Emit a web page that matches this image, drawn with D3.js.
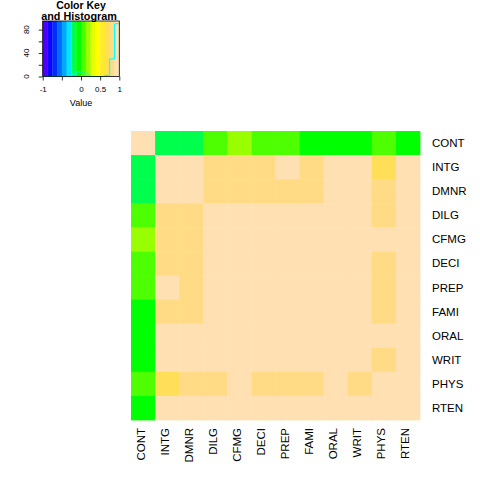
<!DOCTYPE html>
<html>
<head>
<meta charset="utf-8">
<script src="https://cdn.jsdelivr.net/npm/d3@7"></script>
<style>
  html, body { margin: 0; padding: 0; background: #fff; }
  svg { display: block; font-family: "Liberation Sans", Arial, Helvetica, sans-serif; }
</style>
</head>
<body>
<svg id="chart" width="480" height="480"></svg>
<script>
// ---- data (correlation matrix of judge ratings) ----
const variables = ["CONT","INTG","DMNR","DILG","CFMG","DECI","PREP","FAMI","ORAL","WRIT","PHYS","RTEN"];
const CONT = [1.000,-0.133,-0.154,0.012,0.137,0.087,0.011,-0.026,-0.012,-0.004,0.054,-0.034];
const INTG = [-0.133,1.000,0.965,0.874,0.814,0.803,0.878,0.869,0.911,0.909,0.741,0.936];
const DMNR = [-0.154,0.965,1.000,0.837,0.813,0.800,0.856,0.841,0.907,0.894,0.789,0.944];
const DILG = [0.012,0.874,0.837,1.000,0.959,0.956,0.982,0.958,0.957,0.959,0.813,0.932];
const CFMG = [0.137,0.814,0.813,0.959,1.000,0.981,0.958,0.948,0.951,0.945,0.878,0.933];
const DECI = [0.087,0.803,0.800,0.956,0.981,1.000,0.957,0.943,0.948,0.945,0.872,0.933];
const PREP = [0.011,0.878,0.856,0.982,0.958,0.957,1.000,0.987,0.983,0.987,0.848,0.950];
const FAMI = [-0.026,0.869,0.841,0.958,0.948,0.943,0.987,1.000,0.981,0.991,0.844,0.942];
const ORAL = [-0.012,0.911,0.907,0.957,0.951,0.948,0.983,0.981,1.000,0.993,0.891,0.982];
const WRIT = [-0.004,0.909,0.894,0.959,0.945,0.945,0.987,0.991,0.993,1.000,0.856,0.968];
const PHYS = [0.054,0.741,0.789,0.813,0.878,0.872,0.848,0.844,0.891,0.856,1.000,0.908];
const RTEN = [-0.034,0.936,0.944,0.932,0.933,0.933,0.950,0.942,0.982,0.968,0.908,1.000];
const rows = [CONT,INTG,DMNR,DILG,CFMG,DECI,PREP,FAMI,ORAL,WRIT,PHYS,RTEN];

// palette (topographic, 16 colours) and its breaks from -1 to 1
const palette = ["#4C00FF","#0F00FF","#002EFF","#006BFF","#00A8FF","#00E5FF",
                 "#00FF4D","#00FF00","#4DFF00","#99FF00","#E6FF00",
                 "#FFFF00","#FFEA2D","#FFDE59","#FFDB86","#FFE0B3"];
const breaks = d3.range(palette.length + 1).map(i => -1 + 2 * i / palette.length);
const keyTickValues = [-1, -0.5, 0, 0.5, 1];
const keyTickLabels = ["-1", "", "0", "0.5", "1"];
const countTickValues = [0, 20, 40, 60, 80];
const countTickLabels = ["0", "", "40", "", "80"];

// ---- drawing ----
const svg = d3.select("#chart");
const color = d3.scaleThreshold().domain(breaks.slice(1, -1)).range(palette);

const cells = [];
rows.forEach((r, i) => r.forEach((v, j) => cells.push({row: variables[i], col: variables[j], v})));

const x = d3.scaleBand().domain(variables).range([131, 420]);
const y = d3.scaleBand().domain(variables).range([131, 420]);

svg.append("g").selectAll("rect").data(cells).join("rect")
  .attr("x", d => x(d.col)).attr("y", d => y(d.row))
  .attr("width", x.bandwidth() + 0.4).attr("height", y.bandwidth() + 0.4)
  .attr("fill", d => color(d.v));

// row labels (right)
svg.append("g").selectAll("text").data(variables).join("text")
  .attr("x", 432).attr("y", d => y(d) + y.bandwidth() / 2 + 4)
  .attr("font-size", 11.5).attr("fill", "#000").text(d => d);

// column labels (bottom, vertical)
svg.append("g").selectAll("text").data(variables).join("text")
  .attr("transform", d => `translate(${x(d) + x.bandwidth() / 2 + 1.5},428) rotate(-90)`)
  .attr("text-anchor", "end")
  .attr("font-size", 11.5).attr("fill", "#000").text(d => d);

// ---- colour key with histogram ----
const kx = d3.scaleLinear().domain([-1, 1]).range([42.7, 119.3]);
const bins = d3.bin().domain([-1, 1]).thresholds(breaks.slice(1, -1))(cells.map(c => c.v));
const counts = bins.map(b => b.length);
const maxCount = d3.max(counts);
const ky = d3.scaleLinear().domain([0, maxCount / 0.95]).range([76.5, 21]);

const key = svg.append("g");
key.selectAll("rect").data(palette).join("rect")
  .attr("x", (c, i) => kx(breaks[i])).attr("y", ky(maxCount / 0.95))
  .attr("width", (c, i) => kx(breaks[i + 1]) - kx(breaks[i]) + 0.3)
  .attr("height", ky(0) - ky(maxCount / 0.95))
  .attr("fill", c => c);

// histogram step line
const stepPts = breaks.map((b, i) => [b, counts[Math.min(i, counts.length - 1)]]);
key.append("path")
  .attr("d", d3.line().x(p => kx(p[0])).y(p => ky(p[1])).curve(d3.curveStepAfter)(stepPts))
  .attr("fill", "none").attr("stroke", "#00FFFF").attr("stroke-width", 1);

// box
key.append("rect")
  .attr("x", kx(-1)).attr("y", ky(maxCount / 0.95))
  .attr("width", kx(1) - kx(-1)).attr("height", ky(0) - ky(maxCount / 0.95))
  .attr("fill", "none").attr("stroke", "#000").attr("stroke-width", 0.8);

// x axis
const xAxis = key.append("g").attr("transform", `translate(0,${ky(0)})`)
  .call(d3.axisBottom(kx).tickValues(keyTickValues).tickSize(4).tickPadding(4)
    .tickFormat((d, i) => keyTickLabels[i]));
xAxis.select(".domain").remove();
xAxis.selectAll("line").attr("stroke-width", 0.8);
xAxis.selectAll("text").attr("font-size", 8).attr("font-family", "Liberation Sans, Arial, sans-serif").attr("dy", "0.9em");

// y axis
const yAxis = key.append("g").attr("transform", `translate(${kx(-1)},0)`)
  .call(d3.axisLeft(ky).tickValues(countTickValues).tickSize(4).tickFormat(() => ""));
yAxis.select(".domain").remove();
yAxis.selectAll("line").attr("stroke-width", 0.8);
key.append("g").selectAll("text").data(countTickValues).join("text")
  .attr("transform", d => `translate(29,${ky(d)}) rotate(-90)`)
  .attr("text-anchor", "middle").attr("font-size", 8)
  .text((d, i) => countTickLabels[i]);

key.append("text").attr("x", 81).attr("y", 106).attr("text-anchor", "middle")
  .attr("font-size", 9).text("Value");

key.append("text").attr("x", 81).attr("y", 9).attr("text-anchor", "middle")
  .attr("font-size", 10.5).attr("font-weight", "bold").text("Color Key");
key.append("text").attr("x", 79).attr("y", 19.5).attr("text-anchor", "middle")
  .attr("font-size", 10.8).attr("font-weight", "bold").text("and Histogram");
</script>
</body>
</html>
